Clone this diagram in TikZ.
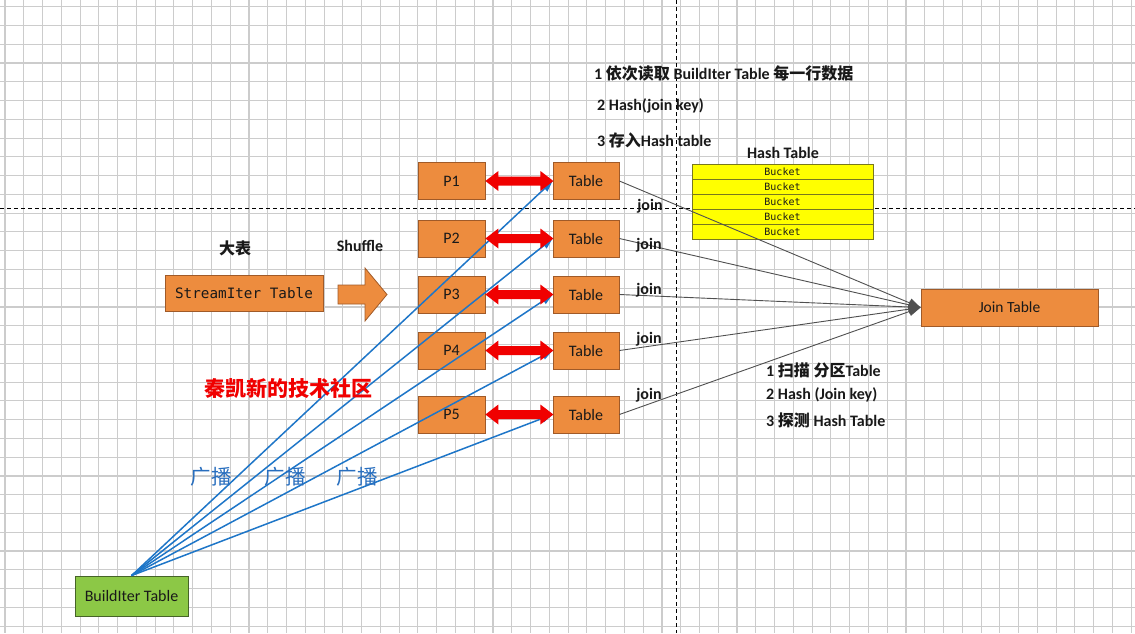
\documentclass[tikz,border=0pt]{standalone}
\usepackage{fontspec}
\setmainfont{Carlito}
\newfontfamily\cjk{Noto Sans CJK SC}
\newfontfamily\monof{DejaVu Sans Mono}
\usetikzlibrary{arrows.meta,calc}
\definecolor{gridc}{RGB}{204,204,204}
\definecolor{orfill}{RGB}{237,140,62}
\definecolor{ordraw}{RGB}{160,90,40}
\definecolor{grfill}{RGB}{140,200,70}
\definecolor{grdraw}{RGB}{70,100,40}
\definecolor{yefill}{RGB}{255,255,0}
\definecolor{yedraw}{RGB}{120,120,30}
\definecolor{bluec}{RGB}{30,118,200}
\definecolor{redc}{RGB}{240,0,0}
\definecolor{joinc}{RGB}{80,80,80}
\definecolor{bluetxt}{RGB}{40,110,190}
\definecolor{txtc}{RGB}{25,25,25}
\newcommand\zh[2][16]{{\cjk\fontsize{#1}{#1}\selectfont #2}}
\tikzset{
  gridline/.style={draw=gridc, line width=1.1pt},
  dashline/.style={draw=black, line width=0.9pt, dash pattern=on 4pt off 3pt},
  obox/.style={draw=ordraw, fill=orfill, line width=0.8pt, minimum height=37pt, inner sep=0pt, font=\fontsize{16}{18}\selectfont, text=txtc},
  pbox/.style={obox, minimum width=67pt},
  tbox/.style={obox, minimum width=66pt},
  bucket/.style={draw=yedraw, fill=yefill, line width=0.8pt, minimum width=181pt, minimum height=15pt, inner sep=0pt, font=\monof\fontsize{10}{11}\selectfont, text=txtc},
  lbl/.style={inner sep=0pt, font=\fontsize{16}{18}\selectfont\bfseries, text=txtc},
  bcast/.style={draw=bluec, line width=1.5pt, -{Triangle[length=11pt,width=8pt]}},
  joinline/.style={draw=joinc, line width=0.9pt, -{Triangle[length=12pt,width=9pt]}},
  dblarrow/.style={fill=redc, draw=none},
}
\begin{document}
\begin{tikzpicture}[x=1pt,y=-1pt]
\useasboundingbox (0,0) rectangle (1135,633);
\fill[white] (0,0) rectangle (1135,633);
% grid
\foreach \i in {0,...,60} \draw[gridline] ({5+18.77*\i},0) -- ({5+18.77*\i},633);
\foreach \j in {0,...,33} \draw[gridline] (0,{6.7+18.77*\j}) -- (1135,{6.7+18.77*\j});
% dashed axes
\draw[dashline] (676,0) -- (676,633);
\draw[dashline] (0,208) -- (1135,208);

% texts top
\node[lbl, anchor=west] (t1) at (594,73) {1 \zh{依次读取} BuildIter Table \zh{每一行数据}};
\node[lbl, anchor=west] (t2) at (597,106) {2 Hash(join key)};
\node[lbl, anchor=west] (t3) at (597,140) {3 \zh{存入}Hash table};
\node[lbl] (htl) at (783,153) {Hash Table};

% buckets
\foreach \k/\yy in {1/171.5,2/186.5,3/201.5,4/216.5,5/231.5}
  \node[bucket] (b\k) at (782.5,\yy) {Bucket};

% boxes
\node[pbox] (p1) at (451.5,181) {P1};
\node[pbox] (p2) at (451.5,238.5) {P2};
\node[pbox] (p3) at (451.5,294.5) {P3};
\node[pbox] (p4) at (451.5,350.5) {P4};
\node[pbox] (p5) at (451.5,414.5) {P5};
\node[tbox] (t1b) at (586,181) {Table};
\node[tbox] (t2b) at (586,238.5) {Table};
\node[tbox] (t3b) at (586,294.5) {Table};
\node[tbox] (t4b) at (586,350.5) {Table};
\node[tbox] (t5b) at (586,414.5) {Table};
\node[obox, minimum width=177pt, font=\fontsize{15.5}{17}\selectfont] (jt) at (1009.5,307.5) {Join Table};
\node[obox, minimum width=158pt, minimum height=36pt, font=\monof\fontsize{14.3}{16}\selectfont] (st) at (244,293) {StreamIter Table};
\node[draw=grdraw, fill=grfill, line width=0.8pt, minimum width=113pt, minimum height=40pt, inner sep=0pt, font=\fontsize{16}{18}\selectfont, text=txtc] (bt) at (131.5,596) {BuildIter Table};

% shuffle arrow
\filldraw[fill=orfill, draw=ordraw, line width=0.8pt] (338,285) -- (365,285) -- (365,268) -- (387,294.5) -- (365,321) -- (365,304) -- (338,304) -- cycle;
\node[lbl] (shl) at (360,246) {Shuffle};
\node[lbl] (dbl) at (235,248) {\zh{大表}};

% broadcast lines
\foreach \k in {1,...,5} \draw[bcast] (bt.north) -- (t\k b.west);

% red double arrows
\foreach \k in {1,...,5}
  \fill[dblarrow] (p\k.east) -- ++(13,-10) -- ++(0,5.5) -- ++(42,0) -- ++(0,-5.5) -- ++(13,10)
     -- ++(-13,10) -- ++(0,-5.5) -- ++(-42,0) -- ++(0,5.5) -- cycle;

% join lines
\foreach \k in {1,...,5} \draw[joinline] (t\k b.east) -- (jt.west);
\node[lbl] (j1) at (650,206) {join};
\node[lbl] (j2) at (649,245) {join};
\node[lbl] (j3) at (649,290) {join};
\node[lbl] (j4) at (649,339) {join};
\node[lbl] (j5) at (649,395) {join};

% lower texts
\node[lbl, anchor=west] (l1) at (766,370) {1 \zh{扫描} \zh{分区}Table};
\node[lbl, anchor=west] (l2) at (766,395) {2 Hash (Join key)};
\node[lbl, anchor=west] (l3) at (766,420) {3 \zh{探测} Hash Table};

% red watermark and broadcast labels
\node[inner sep=0pt, text=redc] (wm) at (288,388) {\zh[21]{\bfseries 秦凯新的技术社区}};
\node[inner sep=0pt, text=bluetxt] (g1) at (211,477) {\zh[20.5]{广播}};
\node[inner sep=0pt, text=bluetxt] (g2) at (285,477) {\zh[20.5]{广播}};
\node[inner sep=0pt, text=bluetxt] (g3) at (357,477) {\zh[20.5]{广播}};
\end{tikzpicture}
\end{document}
